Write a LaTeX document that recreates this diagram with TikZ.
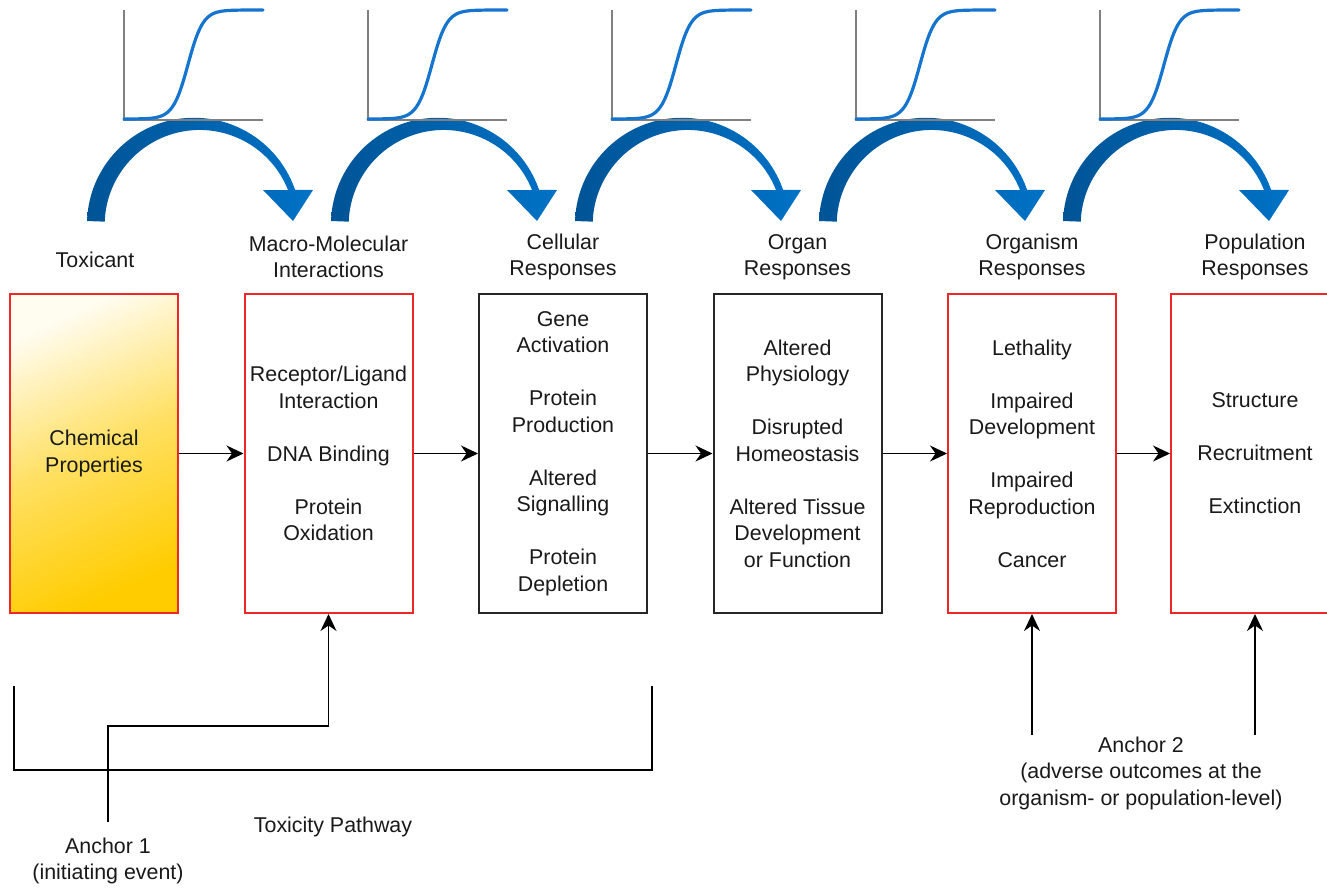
\documentclass[tikz,border=0pt]{standalone}
\usepackage{fontspec}
\setmainfont{Liberation Sans}
\usetikzlibrary{arrows.meta,positioning}
\definecolor{boxred}{RGB}{238,40,40}
\definecolor{boxgold}{RGB}{255,204,0}
\definecolor{curveblue}{RGB}{20,116,206}
\definecolor{arcdark}{RGB}{0,84,150}
\definecolor{arclight}{RGB}{0,114,198}
\definecolor{axisgray}{RGB}{128,128,128}
\tikzset{
  txt/.style={font=\fontsize{10.7}{13.25}\selectfont, align=center, inner sep=0pt, text=black!90},
  stage/.style={txt, draw=black!85, line width=1pt, minimum width=84pt, minimum height=159.5pt},
  redstage/.style={stage, draw=boxred},
  flow/.style={-{Stealth[length=8.5pt,width=8pt]}, line width=0.75pt},
  plain/.style={line width=0.75pt},
  axisline/.style={draw=axisgray, line width=1pt},
  curve/.style={draw=curveblue, line width=1.6pt, line cap=round},
}
% dose-response chart, #1 = left edge
\def\doseplot(#1){%
  \draw[axisline] (#1,10) -- (#1,120) -- ({#1+139},120);
  \draw[curve] plot[domain=0:139, samples=80] ({#1+\x}, {119-109/(1+exp(-(\x-64)/7.5))});
}
% tapered curved arrow, #1 = shift
\def\stagearc(#1){%
  \begin{scope}[shift={(#1,0)}]
  \shade[left color=arcdark, right color=arclight] (87,221) arc[start angle=182, end angle=341, radius=107]
    -- (313,190) -- (293,221) -- (263,190) -- (288,190)
    arc[start angle=338.4, end angle=182, radius=95] -- cycle;
  \end{scope}
}

\begin{document}
\begin{tikzpicture}[x=0.5pt, y=-0.5pt]
  %%%%% START %%%%%
  \useasboundingbox (0,0) rectangle (1327,889);

  \stagearc(0)
  \stagearc(244)
  \stagearc(488)
  \stagearc(732)
  \stagearc(976)

  \doseplot(124)
  \doseplot(368)
  \doseplot(612)
  \doseplot(856)
  \doseplot(1100)

  % stages
  \node[redstage, top color=boxgold!6!white, bottom color=boxgold, middle color=boxgold!62!white, shading angle=25] (tox) at (94,453.5) {Chemical\\Properties};
  \node[redstage] (macro) at (328.5,453.5) {Receptor/Ligand\\Interaction\\[13.25pt]DNA Binding\\[13.25pt]Protein\\Oxidation};
  \node[stage] (cell) at (563,453.5) {Gene\\Activation\\[13.25pt]Protein\\Production\\[13.25pt]Altered\\Signalling\\[13.25pt]Protein\\Depletion};
  \node[stage] (organ) at (797.5,453.5) {Altered\\Physiology\\[13.25pt]Disrupted\\Homeostasis\\[13.25pt]Altered Tissue\\Development\\or Function};
  \node[redstage] (organism) at (1032,453.5) {Lethality\\[13.25pt]Impaired\\Development\\[13.25pt]Impaired\\Reproduction\\[13.25pt]Cancer};
  \node[redstage] (popn) at (1255,453.5) {Structure\\[13.25pt]Recruitment\\[13.25pt]Extinction};

  % headers
  \node[txt] (toxhead) at (95,260) {Toxicant};
  \node[txt] (macrohead) at (328.5,257) {Macro-Molecular\\Interactions};
  \node[txt] (cellhead) at (563,257) {Cellular\\Responses};
  \node[txt] (organhead) at (797.5,257) {Organ\\Responses};
  \node[txt] (organismhead) at (1032,257) {Organism\\Responses};
  \node[txt] (popnhead) at (1255,257) {Population\\Responses};

  \draw[flow] (tox) -- (macro);
  \draw[flow] (macro) -- (cell);
  \draw[flow] (cell) -- (organ);
  \draw[flow] (organ) -- (organism);
  \draw[flow] (organism) -- (popn);

  % anchor 1 and toxicity pathway
  \node[txt] (anchor1) at (108,861) {Anchor 1\\(initiating event)};
  \node[txt] (pathway) at (333,827) {Toxicity Pathway};
  \coordinate (a1low) at (108,822);
  \coordinate (a1bend) at (108,726);
  \coordinate (bl) at (14,686);
  \coordinate (br) at (652,686);
  \draw[plain] (bl) -- (14,770) -- (652,770) -- (br);
  \draw[flow] (a1low) -- (a1bend) -| (macro.south);

  % anchor 2
  \node[txt] (anchor2) at (1141,773) {Anchor 2\\(adverse outcomes at the\\organism- or population-level)};
  \coordinate (a2left) at (1032,735);
  \coordinate (a2right) at (1255,735);
  \draw[flow] (a2left) -- (organism.south);
  \draw[flow] (a2right) -- (popn.south);
  %%%%% END %%%%%
\end{tikzpicture}
\end{document}
